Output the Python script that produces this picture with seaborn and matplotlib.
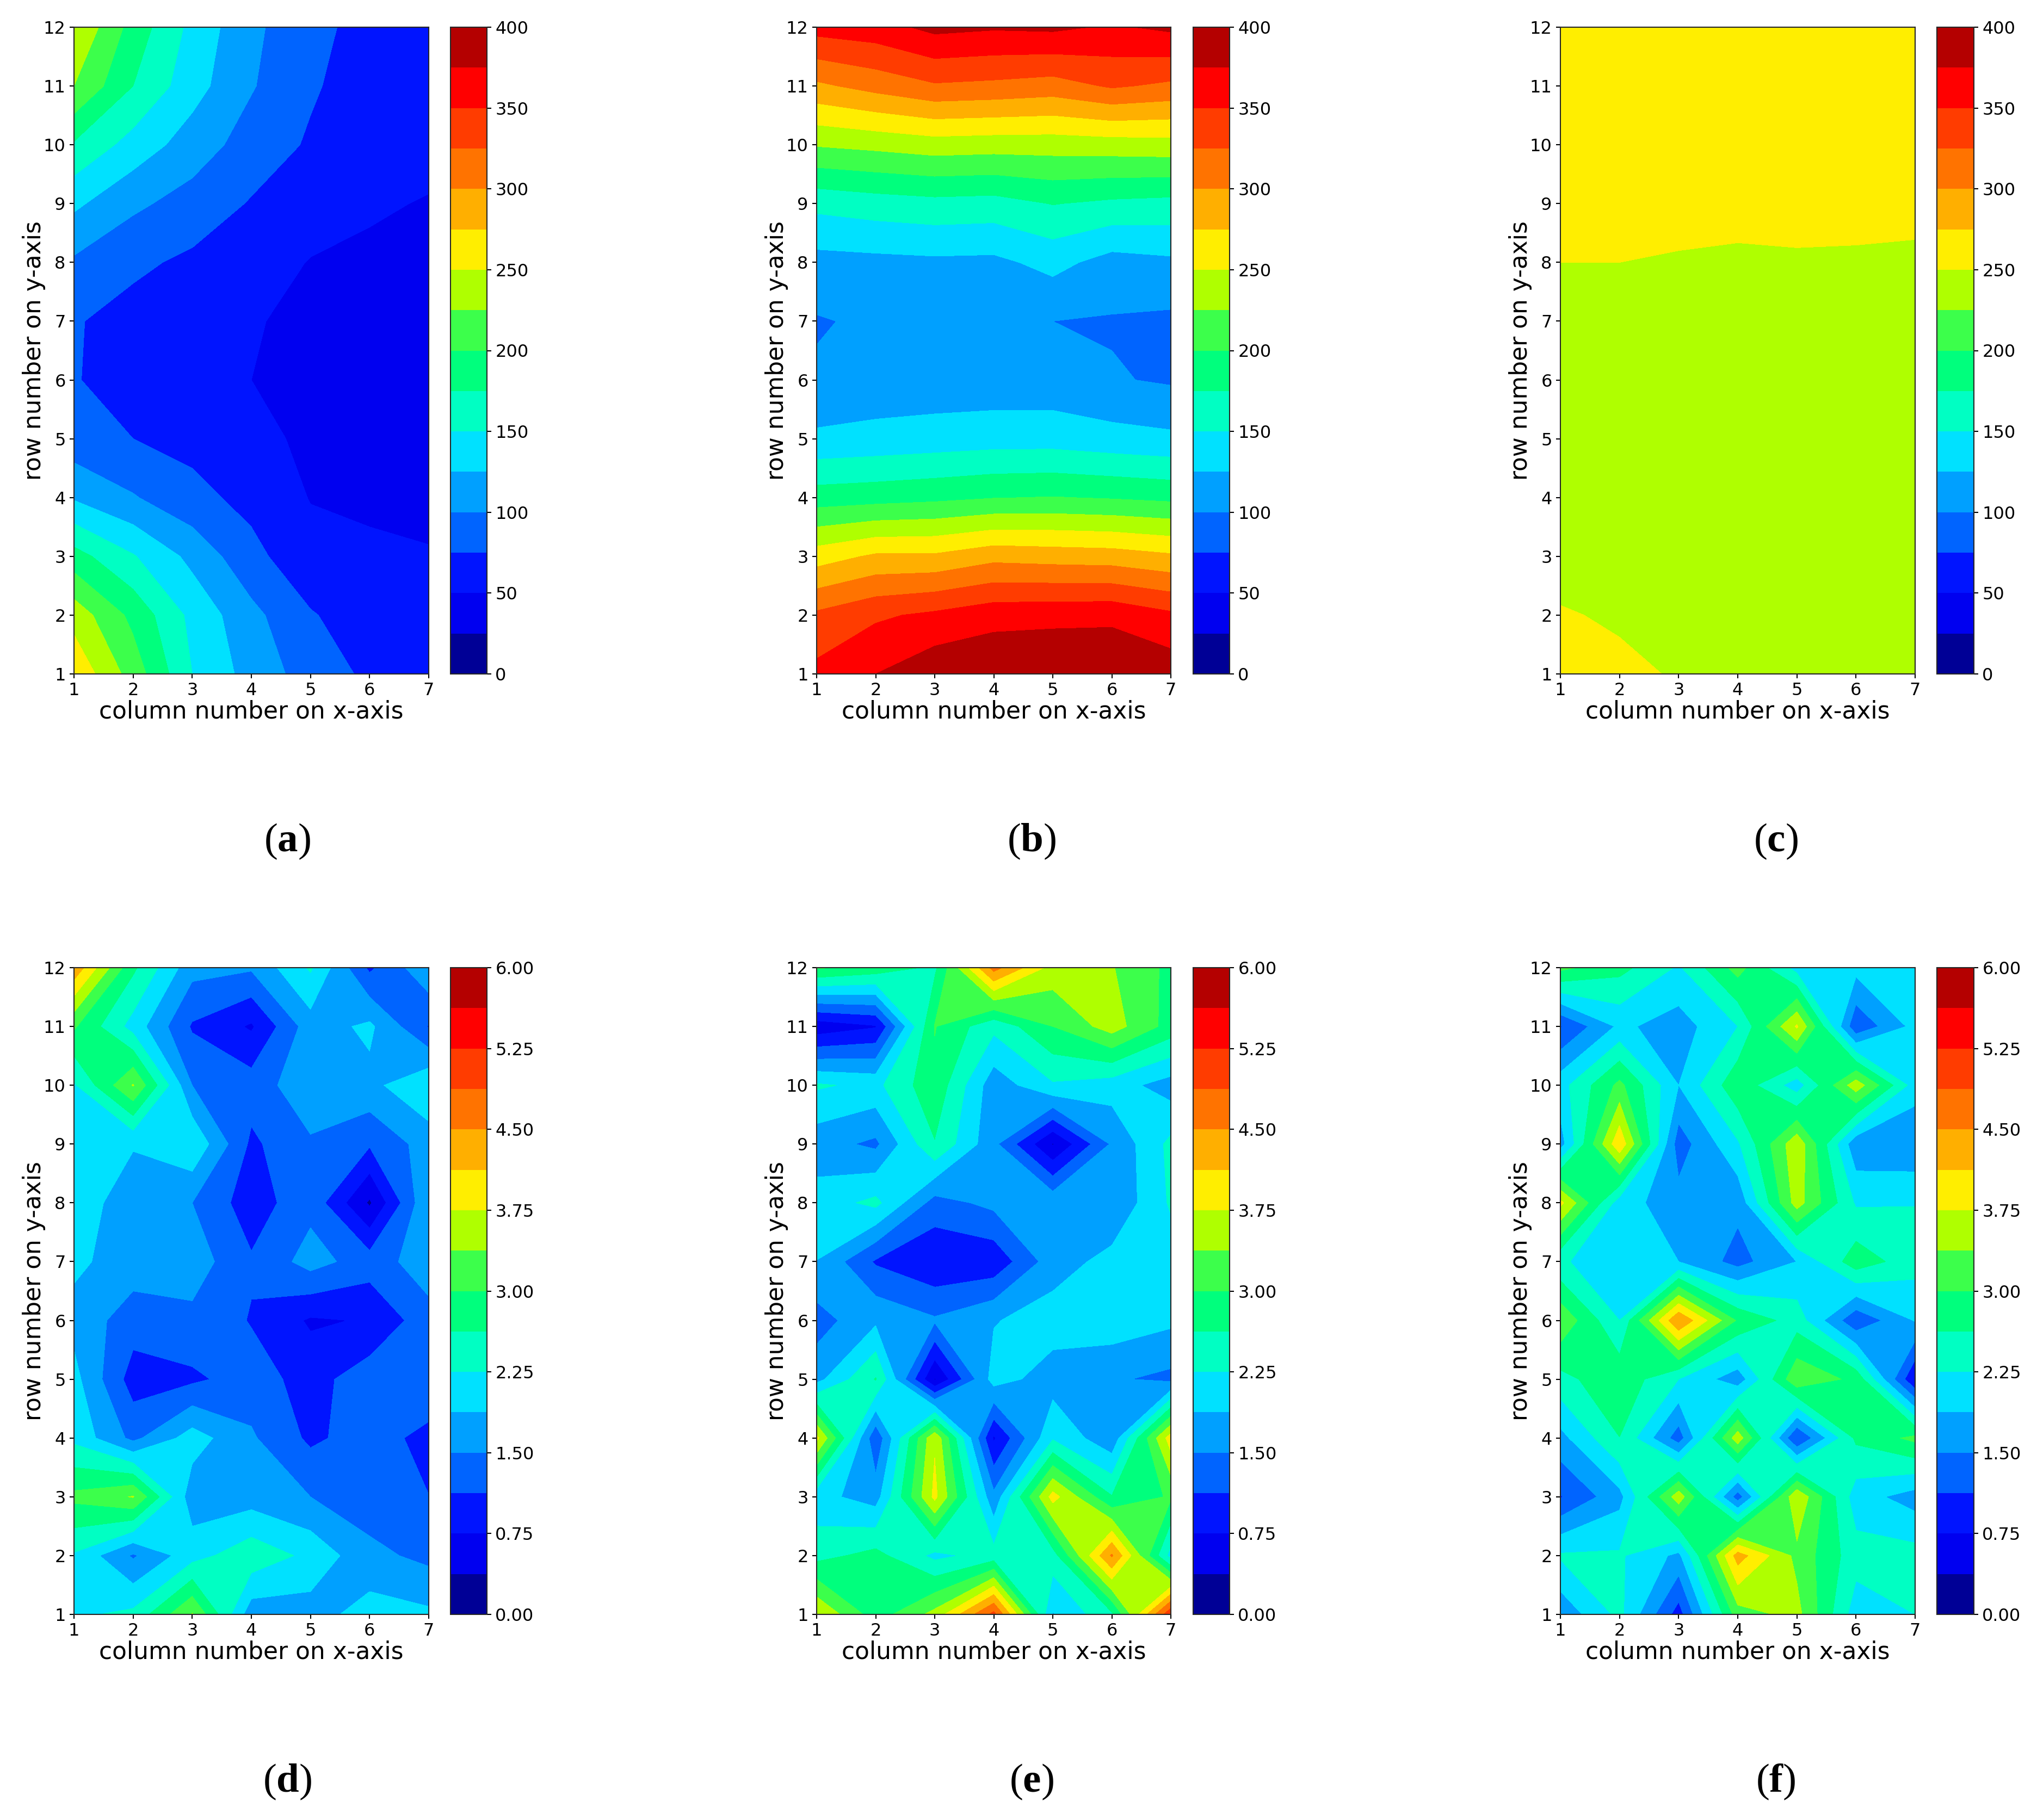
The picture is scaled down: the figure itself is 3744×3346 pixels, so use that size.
import numpy as np
import matplotlib
matplotlib.use("Agg")
import matplotlib.pyplot as plt
from matplotlib.colors import ListedColormap
import seaborn as sns

# row 1 to 12 for each column
rows = list(range(1, 13))
cols = list(range(1, 8))

a_cols = [
    [270, 240, 185, 122, 85, 76, 77, 96, 130, 172, 225, 250],
    [214, 193, 152, 102, 75, 68, 66, 80, 105, 140, 175, 190],
    [150, 143, 118, 82, 68, 60, 60, 70, 90, 113, 135, 143],
    [115, 107, 82, 68, 57, 50, 52, 60, 73, 89, 102, 105],
    [89, 77, 58, 49, 45, 42, 44, 49, 60, 72, 78, 84],
    [70, 62, 52, 48, 42, 40, 41, 47, 52, 62, 63, 64],
    [60, 56, 51, 46, 42, 40, 41, 45, 49, 55, 58, 60],
]
b_cols = [
    [357, 330, 263, 187, 130, 103, 98, 116, 157, 227, 295, 360],
    [375, 346, 279, 190, 133, 109, 104, 118, 163, 232, 309, 365],
    [393, 355, 279, 194, 136, 110, 105, 120, 167, 238, 322, 382],
    [397, 366, 292, 199, 139, 110, 106, 119, 165, 236, 319, 378],
    [398, 368, 289, 201, 139, 110, 100, 133, 176, 236, 314, 380],
    [398, 369, 287, 198, 134, 102, 98, 115, 170, 238, 328, 372],
    [390, 355, 279, 194, 130, 97, 95, 120, 167, 240, 320, 380],
]
c_cols = [
    [262, 252, 240, 234, 234, 236, 240, 250, 257, 263, 266, 268],
    [255, 247, 240, 234, 234, 236, 240, 250, 257, 263, 266, 268],
    [248, 245, 240, 234, 234, 236, 240, 248, 258, 263, 266, 268],
    [247, 245, 240, 234, 234, 236, 240, 247, 256, 263, 266, 268],
    [247, 245, 240, 234, 234, 236, 240, 248, 256, 263, 266, 268],
    [247, 245, 240, 234, 234, 236, 240, 247.5, 256, 263, 266, 268],
    [247, 245, 240, 234, 234, 236, 240, 246.5, 255.5, 263, 266, 268],
]
d_cols = [
    [2.18, 2.2, 3.1, 2.15, 2.0, 1.75, 1.95, 2.05, 2.1, 2.2, 3.05, 4.4],
    [2.34, 1.45, 3.4, 1.4, 0.95, 1.3, 1.7, 1.7, 1.9, 3.4, 2.1, 2.7],
    [3.4, 2.1, 1.65, 2.05, 1.05, 1.4, 1.7, 1.5, 2.2, 1.5, 1.08, 1.63],
    [1.65, 2.5, 1.7, 1.55, 1.3, 1.1, 1.17, 0.92, 1.05, 1.3, 0.7, 1.55],
    [1.7, 2.15, 1.5, 1.05, 0.97, 0.7, 1.65, 1.39, 1.45, 1.75, 1.7, 2.3],
    [2.05, 1.6, 1.3, 1.3, 1.35, 0.78, 1.31, 0.32, 1.17, 1.77, 1.95, 1.05],
    [1.95, 1.4, 1.13, 1.0, 1.45, 1.36, 1.7, 1.85, 1.67, 2.2, 1.1, 1.8],
]
e_cols = [
    [3.75, 2.5, 2.0, 3.85, 1.75, 1.33, 1.87, 2.05, 1.65, 2.3, 0.5, 3.05],
    [2.8, 2.75, 1.7, 1.2, 2.65, 1.8, 1.08, 2.35, 1.42, 2.15, 0.72, 2.85],
    [3.5, 2.15, 3.85, 3.7, 0.35, 1.55, 0.8, 1.35, 2.6, 2.9, 3.02, 2.55],
    [5.0, 2.4, 1.6, 0.7, 2.03, 1.85, 0.85, 1.6, 1.6, 1.65, 2.35, 4.65],
    [1.85, 2.45, 3.9, 2.2, 1.7, 2.05, 1.7, 1.78, 0.35, 2.2, 3.0, 3.6],
    [2.55, 4.55, 2.65, 1.6, 1.55, 2.1, 2.0, 1.55, 1.55, 2.05, 3.55, 3.4],
    [5.2, 2.1, 3.05, 3.95, 1.4, 1.95, 2.05, 2.3, 2.35, 1.7, 2.85, 2.9],
]
f_cols = [
    [1.6, 2.3, 1.1, 1.75, 2.5, 3.3, 2.3, 3.85, 1.7, 2.1, 1.1, 3.1],
    [2.35, 2.3, 1.75, 2.62, 2.9, 2.25, 2.0, 2.05, 4.05, 3.1, 1.95, 2.75],
    [0.95, 1.78, 3.6, 1.3, 2.25, 4.5, 1.875, 1.65, 1.3, 1.875, 1.7, 2.2],
    [3.2, 4.3, 1.3, 3.6, 1.65, 2.95, 1.36, 1.6, 2.2, 2.9, 2.25, 3.15],
    [3.5, 3.27, 3.7, 1.1, 3.3, 2.45, 1.88, 3.55, 3.65, 2.05, 3.8, 2.1],
    [2.05, 2.4, 2.05, 2.7, 2.9, 1.2, 2.85, 2.2, 1.6, 3.6, 1.2, 2.0],
    [2.25, 2.4, 1.7, 3.1, 0.75, 1.9, 2.4, 2.24, 1.55, 2.05, 2.0, 2.0],
]

panel_data = [a_cols, b_cols, c_cols, d_cols, e_cols, f_cols]
panel_names = ["a", "b", "c", "d", "e", "f"]

top_levels = np.linspace(0, 400, 17)
bottom_levels = np.linspace(0, 6, 17)
top_ticks = [0, 50, 100, 150, 200, 250, 300, 350, 400]
bottom_ticks = [0, 0.75, 1.5, 2.25, 3, 3.75, 4.5, 5.25, 6]

# the bands in the picture are more saturated than plain jet
band_colors = ["#000096", "#0000f0", "#0014ff", "#0064ff", "#00a0ff", "#00e1ff",
               "#00ffc3", "#00ff7d", "#3cff4b", "#afff00", "#ffee00", "#ffaf00",
               "#ff7300", "#ff3c00", "#ff0000", "#b40000"]

W, H = 3744, 3346

sns.set_style("ticks")
plt.rcParams["font.family"] = ["DejaVu Sans"]
plt.rcParams["text.color"] = "black"
plt.rcParams["axes.labelcolor"] = "black"
plt.rcParams["xtick.color"] = "black"
plt.rcParams["ytick.color"] = "black"
plt.rcParams["mathtext.fontset"] = "custom"
plt.rcParams["mathtext.bf"] = "Liberation Serif:bold"
bands = ListedColormap(band_colors)

fig = plt.figure(figsize=(W / 100, H / 100), dpi=100, facecolor="white")


def px_axes(x0, x1, y0, y1):
    return fig.add_axes([x0 / W, 1 - y1 / H, (x1 - x0) / W, (y1 - y0) / H])


ax_left = [136, 1501, 2868]
ax_right = [788, 2152, 3520]
cb_left = [828, 2193, 3560]
cb_right = [895, 2260, 3628]
cap_x = [528, 1896, 3264]
row_top = [50, 1779]
row_bot = [1239, 2968]
cap_y = [1547, 3276]

for i, cols_vals in enumerate(panel_data):
    c = i % 3
    r = i // 3
    z = np.array(cols_vals, dtype=float).T
    ax = px_axes(ax_left[c], ax_right[c], row_top[r], row_bot[r])
    levels = top_levels if r == 0 else bottom_levels
    cf = ax.contourf(cols, rows, z, levels=levels, cmap=bands)
    ax.set_xticks(cols)
    ax.set_yticks(rows)
    ax.tick_params(labelsize=23, width=1.5, length=6, pad=5)
    ax.set_xlabel("column number on x-axis", fontsize=31.6, labelpad=1)
    ax.set_ylabel("row number on y-axis", fontsize=31.6, labelpad=-3)
    for s in ax.spines.values():
        s.set_linewidth(1.5)

    cax = px_axes(cb_left[c], cb_right[c], row_top[r], row_bot[r])
    if r == 0:
        cb = fig.colorbar(cf, cax=cax, ticks=top_ticks, format="%d")
    else:
        cb = fig.colorbar(cf, cax=cax, ticks=bottom_ticks, format="%.2f")
    cb.ax.tick_params(labelsize=23, width=1.5, length=6, pad=5)
    cb.outline.set_linewidth(1.5)

    fig.text(cap_x[c] / W, 1 - cap_y[r] / H, "($\\mathbf{" + panel_names[i] + "}$)",
             fontsize=54, family="Liberation Serif",
             ha="center", va="center")

fig.savefig("out.png", dpi=100, facecolor="white")
